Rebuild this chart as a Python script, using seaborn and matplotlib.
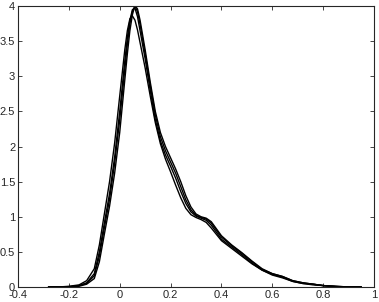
import matplotlib
matplotlib.use('Agg')
import matplotlib.pyplot as plt
import seaborn as sns
import pandas as pd

sns.set_style('ticks')
plt.rcParams['font.family'] = ['Liberation Sans', 'DejaVu Sans']

# shared x grid
x_grid = [-0.28, -0.24, -0.20, -0.16, -0.13, -0.10, -0.08, -0.06, -0.04, -0.02,
          0.00, 0.02, 0.03, 0.04, 0.05, 0.06, 0.07, 0.08, 0.10, 0.12,
          0.14, 0.16, 0.18, 0.20, 0.22, 0.24, 0.26, 0.28, 0.30, 0.32,
          0.34, 0.36, 0.38, 0.40, 0.44, 0.48, 0.52, 0.56, 0.60, 0.64,
          0.68, 0.72, 0.76, 0.80, 0.85, 0.90, 0.95]

curve_a = [0.0, 0.0, 0.01, 0.03, 0.09, 0.26, 0.60, 1.05, 1.50, 2.05,
           2.72, 3.38, 3.65, 3.82, 3.86, 3.80, 3.66, 3.48, 3.12, 2.72,
           2.34, 2.04, 1.82, 1.64, 1.45, 1.27, 1.12, 1.03, 0.99, 0.96,
           0.92, 0.84, 0.75, 0.66, 0.55, 0.44, 0.33, 0.24, 0.17, 0.13,
           0.08, 0.05, 0.03, 0.02, 0.005, 0.0, 0.0]

curve_b = [0.0, 0.0, 0.005, 0.02, 0.06, 0.19, 0.50, 0.92, 1.33, 1.85,
           2.50, 3.22, 3.55, 3.80, 3.95, 3.97, 3.85, 3.65, 3.25, 2.80,
           2.38, 2.08, 1.88, 1.72, 1.55, 1.36, 1.19, 1.07, 1.01, 0.98,
           0.95, 0.88, 0.78, 0.68, 0.57, 0.46, 0.34, 0.24, 0.18, 0.14,
           0.08, 0.05, 0.04, 0.02, 0.005, 0.0, 0.0]

curve_c = [0.0, 0.0, 0.0, 0.02, 0.05, 0.16, 0.44, 0.85, 1.25, 1.76,
           2.38, 3.10, 3.46, 3.75, 3.93, 4.00, 3.92, 3.74, 3.32, 2.87,
           2.45, 2.14, 1.94, 1.78, 1.62, 1.43, 1.24, 1.10, 1.02, 0.99,
           0.97, 0.91, 0.81, 0.71, 0.59, 0.48, 0.36, 0.25, 0.19, 0.15,
           0.09, 0.06, 0.04, 0.02, 0.01, 0.0, 0.0]

curve_d = [0.0, 0.0, 0.0, 0.01, 0.04, 0.12, 0.36, 0.76, 1.15, 1.62,
           2.20, 2.95, 3.32, 3.65, 3.88, 4.01, 3.96, 3.80, 3.38, 2.92,
           2.50, 2.20, 2.00, 1.84, 1.68, 1.50, 1.30, 1.14, 1.04, 1.00,
           0.98, 0.93, 0.83, 0.73, 0.60, 0.49, 0.37, 0.26, 0.19, 0.15,
           0.09, 0.06, 0.04, 0.02, 0.01, 0.0, 0.0]

curves = {'a': curve_a, 'b': curve_b, 'c': curve_c, 'd': curve_d}
rows = []
for name, ys in curves.items():
    for xv, yv in zip(x_grid, ys):
        rows.append({'x': xv, 'y': yv, 'curve': name})
df = pd.DataFrame(rows)

fig = plt.figure(figsize=(3.79, 3.02), dpi=100)
ax = fig.add_axes([0.0475, 0.0497, 0.9393, 0.930])

sns.lineplot(data=df, x='x', y='y', hue='curve', palette=['black'] * 4,
             estimator=None, sort=False, legend=False, linewidth=1.0, ax=ax)

ax.set_xlim(-0.4, 1.0)
ax.set_ylim(0, 4)
ax.set_xticks([-0.4, -0.2, 0, 0.2, 0.4, 0.6, 0.8, 1.0])
ax.set_xticklabels(['-0.4', '-0.2', '0', '0.2', '0.4', '0.6', '0.8', '1'])
ax.set_yticks([0, 0.5, 1, 1.5, 2, 2.5, 3, 3.5, 4])
ax.set_yticklabels(['0', '0.5', '1', '1.5', '2', '2.5', '3', '3.5', '4'])
ax.tick_params(direction='in', length=3, width=0.6, labelsize=8,
               top=True, right=True, pad=2)
for s in ax.spines.values():
    s.set_linewidth(0.8)
    s.set_visible(True)
ax.set_xlabel('')
ax.set_ylabel('')

fig.savefig('out.png', dpi=100)
